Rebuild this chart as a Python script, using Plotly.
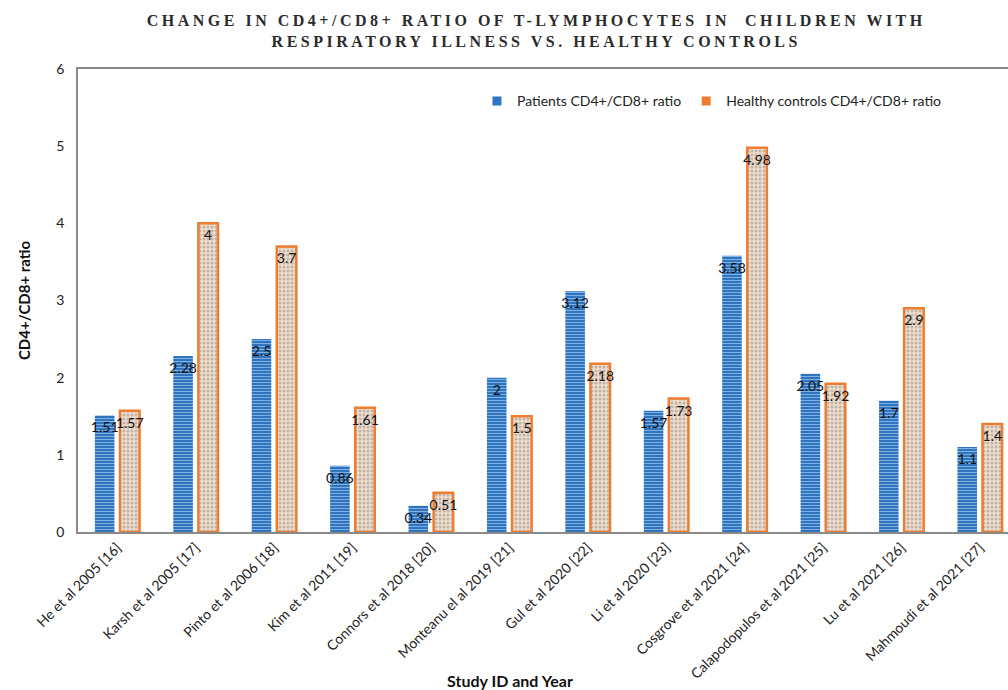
import plotly.graph_objects as go

studies = [
    "He et al 2005 [16]", "Karsh et al 2005 [17]", "Pinto et al 2006 [18]",
    "Kim et al 2011 [19]", "Connors et al 2018 [20]", "Monteanu el al 2019 [21]",
    "Gul et al 2020 [22]", "Li et al 2020 [23]", "Cosgrove et al 2021 [24]",
    "Calapodopulos et al 2021 [25]", "Lu et al 2021 [26]", "Mahmoudi et al 2021 [27]",
]
patients_ratio = [1.51, 2.28, 2.5, 0.86, 0.34, 2, 3.12, 1.57, 3.58, 2.05, 1.7, 1.1]
controls_ratio = [1.57, 4, 3.7, 1.61, 0.51, 1.5, 2.18, 1.73, 4.98, 1.92, 2.9, 1.4]

patients_name = "Patients CD4+/CD8+ ratio"
controls_name = "Healthy controls CD4+/CD8+ ratio"

BLUE = "#2f74bd"
ORANGE = "#ed7d31"
FONT = "Lato"

fig = go.Figure()

fig.add_trace(go.Bar(
    x=studies, y=patients_ratio, name=patients_name, showlegend=False,
    text=[f"{v:g}" for v in patients_ratio],
    textposition="inside", insidetextanchor="end", textangle=0,
    constraintext="none",
    textfont=dict(family=FONT, size=14, color="#111111"),
    marker=dict(
        color=BLUE,
        line=dict(width=0),
        pattern=dict(shape="-", fgcolor="#7eb1e3", bgcolor=BLUE,
                     size=3, solidity=0.35, fillmode="replace"),
    ),
))

fig.add_trace(go.Bar(
    x=studies, y=controls_ratio, name=controls_name, showlegend=False,
    text=[f"{v:g}" for v in controls_ratio],
    textposition="inside", insidetextanchor="end", textangle=0,
    constraintext="none",
    textfont=dict(family=FONT, size=14, color="#111111"),
    marker=dict(
        color="#e9d6c3",
        line=dict(width=2.5, color=ORANGE),
        pattern=dict(shape=".", fgcolor="#c4b3a4", bgcolor="#eddfd0",
                     size=4, solidity=0.45, fillmode="replace"),
    ),
))

# Solid swatches for the legend
for name, col in [(patients_name, "#2e75c6"), (controls_name, ORANGE)]:
    fig.add_trace(go.Scatter(
        x=[None], y=[None], mode="markers", name=name,
        marker=dict(symbol="square", size=9, color=col),
    ))

fig.update_layout(
    width=1008, height=690,
    margin=dict(l=78, r=0, t=69, b=158),
    paper_bgcolor="white", plot_bgcolor="white",
    barmode="group", bargap=0.36, bargroupgap=0.22,
    font=dict(family=FONT, color="#222222"),
    title=dict(
        text="CHANGE IN CD4+/CD8+ RATIO OF T-LYMPHOCYTES IN  CHILDREN WITH<br>"
             "RESPIRATORY ILLNESS VS. HEALTHY CONTROLS",
        x=0.532, xanchor="center", xref="container",
        y=0.962, yanchor="top", yref="container",
        font=dict(family="Liberation Serif", size=16, color="#2b2b2b", weight="bold"),
    ),
    legend=dict(
        orientation="h", x=0.429, xanchor="left", y=0.93, yanchor="middle",
        font=dict(family=FONT, size=14, color="#222222"),
        bgcolor="rgba(0,0,0,0)", itemwidth=30,
    ),
    xaxis=dict(
        type="category", range=[-0.5, 11.36],
        tickangle=-45, tickfont=dict(family=FONT, size=14, color="#222222"),
        showline=True, linecolor="#8a8a8a", linewidth=2, mirror=True,
        showgrid=False, ticks="",
    ),
    yaxis=dict(
        range=[0, 6], dtick=1, tickfont=dict(family=FONT, size=14, color="#222222"),
        showline=True, linecolor="#8a8a8a", linewidth=1.5,
        showgrid=False, zeroline=False, ticks="", ticklabelstandoff=9,
    ),
    annotations=[
        dict(text="<b>Study ID and Year</b>", xref="paper", yref="paper",
             x=0.4645, y=-0.32, xanchor="center", yanchor="middle", showarrow=False,
             font=dict(family=FONT, size=16, color="#111111")),
        dict(text="<b>CD4+/CD8+ ratio</b>", xref="paper", yref="paper",
             x=-0.058, y=0.501, xanchor="center", yanchor="middle", showarrow=False,
             textangle=-90, font=dict(family=FONT, size=15, color="#111111")),
    ],
)

# Widen the tracking of the serif heading
letter_spacing_js = (
    "var s=document.createElement('style');"
    "s.textContent='.gtitle{letter-spacing:3.5px;}';"
    "document.head.appendChild(s);"
)

fig.write_html("out.html", post_script=letter_spacing_js)
